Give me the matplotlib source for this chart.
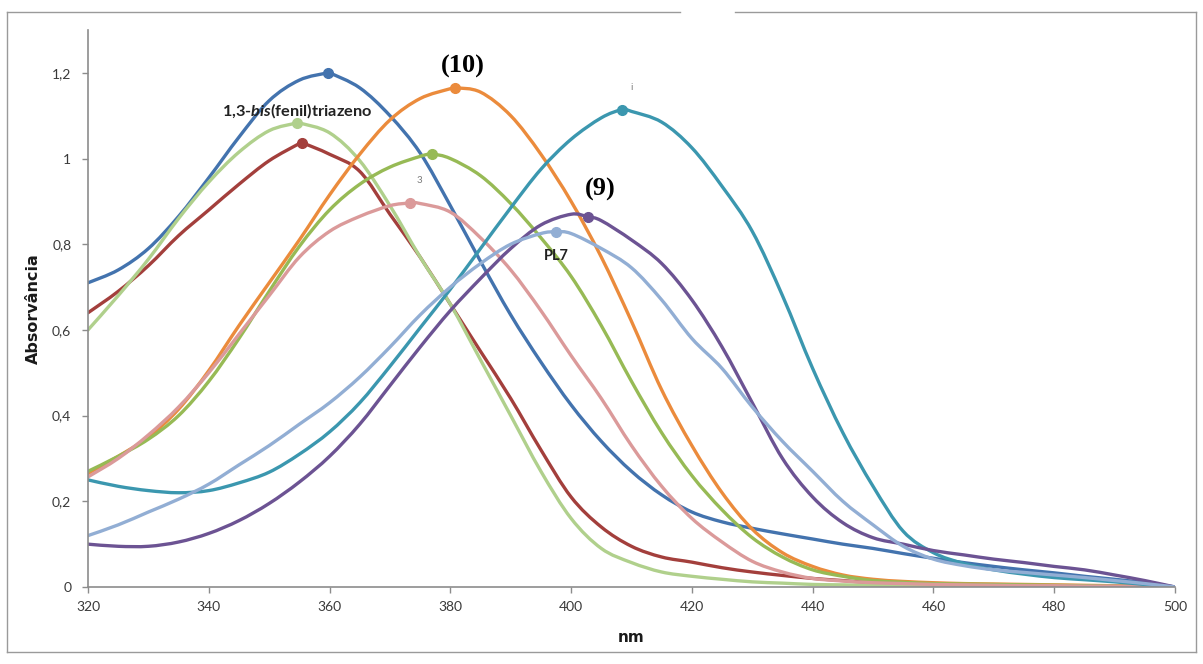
import numpy as np
import matplotlib
matplotlib.use("Agg")
import matplotlib.pyplot as plt
from matplotlib.lines import Line2D
from matplotlib.path import Path
from matplotlib.patches import PathPatch

plt.rcParams["mathtext.fontset"] = "custom"
plt.rcParams["mathtext.bfit"] = "Lato:italic:bold"
plt.rcParams["mathtext.rm"] = "Lato:bold"

# wavelength grid (nm)
nm = list(range(320, 505, 5))

# absorbance, one list per compound
blue = [0.71, 0.74, 0.79, 0.865, 0.955, 1.05, 1.135, 1.183, 1.20, 1.165, 1.10, 1.013, 0.89,
        0.76, 0.635, 0.525, 0.425, 0.34, 0.27, 0.215, 0.175, 0.152, 0.137, 0.124, 0.112,
        0.10, 0.09, 0.078, 0.067, 0.057, 0.048, 0.04, 0.033, 0.025, 0.018, 0.01, 0.0]
red = [0.64, 0.69, 0.75, 0.82, 0.88, 0.94, 0.995, 1.035, 1.01, 0.97, 0.87, 0.77, 0.66,
       0.55, 0.44, 0.32, 0.21, 0.14, 0.095, 0.07, 0.058, 0.045, 0.035, 0.027, 0.02, 0.015,
       0.01, 0.008, 0.006, 0.005, 0.004, 0.003, 0.003, 0.002, 0.002, 0.001, 0.0]
triazeno = [0.60, 0.68, 0.765, 0.86, 0.945, 1.015, 1.065, 1.083, 1.06, 0.995, 0.89, 0.77,
            0.66, 0.53, 0.40, 0.27, 0.16, 0.09, 0.057, 0.035, 0.025, 0.018, 0.012, 0.009,
            0.006, 0.005, 0.004, 0.003, 0.003, 0.002, 0.002, 0.002, 0.001, 0.001, 0.001,
            0.001, 0.0]
orange = [0.265, 0.305, 0.35, 0.415, 0.505, 0.61, 0.71, 0.81, 0.915, 1.01, 1.09, 1.14, 1.163,
          1.155, 1.10, 1.01, 0.90, 0.77, 0.62, 0.46, 0.33, 0.22, 0.135, 0.08, 0.048, 0.028,
          0.018, 0.013, 0.01, 0.008, 0.007, 0.006, 0.005, 0.004, 0.003, 0.002, 0.0]
green = [0.27, 0.305, 0.345, 0.40, 0.48, 0.58, 0.69, 0.795, 0.88, 0.94, 0.98, 1.005, 1.0,
         0.96, 0.895, 0.815, 0.725, 0.61, 0.48, 0.36, 0.26, 0.18, 0.115, 0.07, 0.04, 0.025,
         0.015, 0.011, 0.008, 0.007, 0.006, 0.005, 0.004, 0.003, 0.002, 0.001, 0.0]
pink = [0.257, 0.30, 0.355, 0.42, 0.50, 0.59, 0.68, 0.77, 0.83, 0.865, 0.89, 0.895, 0.875,
        0.815, 0.74, 0.645, 0.54, 0.44, 0.33, 0.235, 0.16, 0.105, 0.06, 0.035, 0.02, 0.014,
        0.01, 0.008, 0.006, 0.005, 0.004, 0.003, 0.003, 0.002, 0.002, 0.001, 0.0]
teal = [0.25, 0.235, 0.225, 0.22, 0.225, 0.243, 0.268, 0.31, 0.362, 0.43, 0.515, 0.605, 0.695,
        0.79, 0.885, 0.975, 1.045, 1.095, 1.11, 1.085, 1.025, 0.935, 0.83, 0.68, 0.51, 0.36,
        0.235, 0.13, 0.08, 0.055, 0.04, 0.03, 0.022, 0.017, 0.012, 0.006, 0.0]
purple = [0.10, 0.095, 0.095, 0.105, 0.125, 0.155, 0.195, 0.245, 0.305, 0.38, 0.47, 0.56,
          0.645, 0.72, 0.79, 0.845, 0.87, 0.855, 0.81, 0.755, 0.67, 0.56, 0.43, 0.30, 0.21,
          0.15, 0.115, 0.10, 0.085, 0.075, 0.065, 0.057, 0.048, 0.04, 0.028, 0.015, 0.0]
pl7 = [0.12, 0.145, 0.175, 0.205, 0.24, 0.285, 0.33, 0.38, 0.43, 0.49, 0.56, 0.635, 0.70,
       0.755, 0.80, 0.825, 0.825, 0.79, 0.745, 0.67, 0.58, 0.51, 0.42, 0.34, 0.27, 0.20,
       0.145, 0.095, 0.065, 0.05, 0.04, 0.034, 0.028, 0.022, 0.015, 0.008, 0.0]

# marked maxima (nm, absorbance)
peak_nm = [359.7, 355.4, 354.6, 380.8, 377.0, 373.3, 408.4, 402.8, 397.5]
peak_abs = [1.20, 1.037, 1.083, 1.165, 1.01, 0.896, 1.114, 0.864, 0.829]

series = [blue, red, triazeno, orange, green, pink, teal, purple, pl7]
colors = ["#4373AE", "#A33F3C", "#B0D08C", "#EB8B3C", "#97BA55", "#DB9A9A",
          "#3B97AF", "#6C5393", "#92AED4"]

xticks = list(range(320, 520, 20))
yticks = [0, 0.2, 0.4, 0.6, 0.8, 1.0, 1.2]
ytick_labels = ["0", "0,2", "0,4", "0,6", "0,8", "1", "1,2"]


def smooth_path(xs, ys):
    # Excel-style "smoothed line": cubic Bezier segments through the data points
    verts = [(xs[0], ys[0])]
    codes = [Path.MOVETO]
    n = len(xs)
    for i in range(n - 1):
        x0, y0 = (xs[i - 1], ys[i - 1]) if i > 0 else (xs[i], ys[i])
        x3, y3 = (xs[i + 2], ys[i + 2]) if i + 2 < n else (xs[i + 1], ys[i + 1])
        c1 = (xs[i] + (xs[i + 1] - x0) / 6, ys[i] + (ys[i + 1] - y0) / 6)
        c2 = (xs[i + 1] - (x3 - xs[i]) / 6, ys[i + 1] - (y3 - ys[i]) / 6)
        verts += [c1, c2, (xs[i + 1], ys[i + 1])]
        codes += [Path.CURVE4] * 3
    return Path(verts, codes)


fig = plt.figure(figsize=(12.03, 6.64), dpi=100)
ax = fig.add_axes([88 / 1203, 1 - 587 / 664, (1175 - 88) / 1203, (587 - 30) / 664])

for ys, c, px, py in zip(series, colors, peak_nm, peak_abs):
    # put the marked maximum into the line so it passes through the dot
    xs = np.array(nm, dtype=float)
    yv = np.array(ys, dtype=float)
    k = np.searchsorted(xs, px)
    xs = np.insert(xs, k, px)
    yv = np.insert(yv, k, py)
    ax.add_patch(PathPatch(smooth_path(xs, yv), fill=False, edgecolor=c, lw=2.4,
                           capstyle="round", joinstyle="round"))
    ax.plot([px], [py], "o", color=c, ms=7, mec=c)

ax.set_xlim(320, 500)
ax.set_ylim(0, 1.3)
ax.set_xticks(xticks)
ax.set_yticks(yticks)
ax.set_yticklabels(ytick_labels)
for s in ["top", "right"]:
    ax.spines[s].set_visible(False)
for s in ["left", "bottom"]:
    ax.spines[s].set_color("#8C8C8C")
    ax.spines[s].set_linewidth(1.2)
ax.tick_params(colors="#8C8C8C", length=4, width=1)
for lab in ax.get_xticklabels() + ax.get_yticklabels():
    lab.set_family("Lato")
    lab.set_fontsize(10)
    lab.set_color("#3A3A3A")
ax.tick_params(axis="x", pad=6)
ax.tick_params(axis="y", pad=8)

ax.set_ylabel("Absorvância", family="DejaVu Sans", fontweight="bold", fontsize=11.5,
              color="#1A1A1A", labelpad=8)
ax.set_xlabel("nm", family="DejaVu Sans", fontweight="bold", fontsize=11,
              color="#1A1A1A", labelpad=12)

# annotations
ax.text(354.6, 1.111, r"1,3-$\mathbfit{bis}$(fenil)triazeno", family="Lato",
        fontweight="bold", fontsize=11.8, ha="center", va="center", color="#222222")
ax.text(382.1, 1.214, "(10)", family="Liberation Serif", fontweight="bold",
        fontsize=19, ha="center", va="center", color="black")
ax.text(404.9, 0.927, "(9)", family="Liberation Serif", fontweight="bold",
        fontsize=19, ha="center", va="center", color="black")
ax.text(397.5, 0.773, "PL7", family="Lato", fontweight="bold", fontsize=10.5,
        ha="center", va="center", color="#222222")
ax.text(374.8, 0.948, "3", family="Lato", fontsize=7, ha="center", va="center",
        color="#444444", alpha=0.7)
ax.text(410.0, 1.165, "i", family="Lato", fontsize=7, ha="center", va="center",
        color="#444444", alpha=0.7)

# chart-area frame (with the small break on top)
W, H = 1203, 664
frame = [((7, 1196), (652, 652)), ((7, 680), (12, 12)), ((735, 1196), (12, 12)),
         ((7, 7), (12, 652)), ((1196, 1196), (12, 652))]
for (xa, xb), (ya, yb) in frame:
    fig.add_artist(Line2D([xa / W, xb / W], [1 - ya / H, 1 - yb / H],
                          transform=fig.transFigure, color="#9A9A9A", lw=1.0))

fig.savefig("out.png", dpi=100)
